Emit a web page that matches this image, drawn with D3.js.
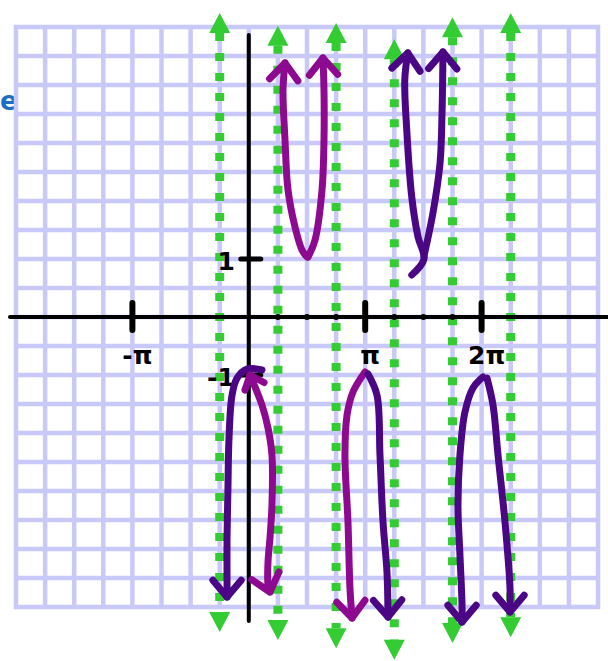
<!DOCTYPE html>
<html><head><meta charset="utf-8">
<script src="https://cdn.jsdelivr.net/npm/d3@7"></script>
<style>html,body{margin:0;padding:0;background:#fff;} svg{display:block;}</style>
</head><body>
<svg id="chart" width="608" height="661"></svg>
<script>
// x values are multiples of π, y values are plain units
const xTickValues = [-1, 1, 2];
const xTickLabels = ["-π", "π", "2π"];
const yTickValues = [1, -1];
const yTickLabels = ["1", "-1"];
const quarterMarks = [0.25, 0.5, 0.75, 1.25, 1.5, 1.75];

// vertical asymptotes and how far each dotted guide reaches
const asymptoteX = [-0.25, 0.25, 0.75, 1.25, 1.75, 2.25];
const asymptoteTop = [5.24, 5.02, 5.07, 4.79, 5.17, 5.24];
const asymptoteBottom = [-5.43, -5.57, -5.71, -5.91, -5.62, -5.52];

// each branch arm runs from its turning point out to the arrow tip
const armA_left  = [[0.113,-0.914],[-0.015,-0.897],[-0.101,-1.052],[-0.144,-1.345],[-0.170,-2.086],[-0.179,-2.948],[-0.187,-3.810],[-0.187,-4.569],[-0.187,-4.828]];
const armA_right = [[0.010,-1.0],[0.113,-1.517],[0.165,-1.914],[0.199,-2.379],[0.199,-3.241],[0.182,-3.810],[0.165,-4.224],[0.165,-4.621],[0.182,-4.741]];
const armB_left  = [[0.500,1.034],[0.457,1.155],[0.397,1.552],[0.337,2.190],[0.311,3.052],[0.294,3.914],[0.311,4.379]];
const armB_right = [[0.509,1.034],[0.569,1.328],[0.629,2.190],[0.646,3.052],[0.646,3.914],[0.637,4.466]];
const armC_left  = [[0.998,-0.948],[0.895,-1.293],[0.844,-1.690],[0.826,-2.379],[0.852,-3.534],[0.869,-4.672],[0.887,-5.190]];
const armC_right = [[1.024,-0.983],[1.101,-1.345],[1.127,-2.379],[1.153,-3.534],[1.187,-4.397],[1.196,-5.172]];
const armD_left  = [[1.400,0.724],[1.505,1.0],[1.454,1.379],[1.400,2.069],[1.357,3.224],[1.340,4.086],[1.366,4.552]];
const armD_right = [[1.505,1.052],[1.582,1.793],[1.643,2.655],[1.660,3.517],[1.668,4.569]];
const armE_left  = [[2.012,-1.034],[1.926,-1.224],[1.857,-1.638],[1.814,-2.379],[1.797,-3.241],[1.814,-4.103],[1.832,-4.966],[1.832,-5.259]];
const armE_right = [[2.046,-1.052],[2.098,-1.517],[2.141,-2.379],[2.201,-3.534],[2.244,-4.672],[2.244,-5.086]];

const arms = [
  {pts: armA_left,  pen: "indigo",  startHead: false},
  {pts: armA_right, pen: "magenta", startHead: true},
  {pts: armB_left,  pen: "magenta", startHead: false},
  {pts: armB_right, pen: "magenta", startHead: false},
  {pts: armC_left,  pen: "magenta", startHead: false},
  {pts: armC_right, pen: "indigo",  startHead: false},
  {pts: armD_left,  pen: "indigo",  startHead: false},
  {pts: armD_right, pen: "indigo",  startHead: false},
  {pts: armE_left,  pen: "indigo",  startHead: false},
  {pts: armE_right, pen: "indigo",  startHead: false}
];

const penColor = {magenta: "#8d0a90", indigo: "#4a0684"};
const gridColor = "#c8c8f9";
const guideColor = "#33cc33";

const svg = d3.select("#chart");
const x = d3.scaleLinear().domain([-2, 3]).range([16, 598]);
const y = d3.scaleLinear().domain([5, -5]).range([27, 607]);

// blue caption letter at the left edge
svg.append("text").attr("x", 0).attr("y", 110)
  .attr("text-anchor", "start")
  .attr("font-family", "DejaVu Sans, sans-serif").attr("font-weight", "bold")
  .attr("font-size", 26).attr("fill", "#1b6fc5").text("e");

// grid: quarter-π columns, half-unit rows
const gx = d3.range(-2, 3.001, 0.25);
const gy = d3.range(-5, 5.001, 0.5);
const grid = svg.append("g").attr("stroke", gridColor).attr("stroke-width", 4.5);
grid.selectAll("line.v").data(gx).join("line").attr("class", "v")
  .attr("x1", d => x(d)).attr("x2", d => x(d))
  .attr("y1", y(5) - 2).attr("y2", y(-5) + 2);
grid.selectAll("line.h").data(gy).join("line").attr("class", "h")
  .attr("y1", d => y(d)).attr("y2", d => y(d))
  .attr("x1", x(-2) - 2).attr("x2", x(3) + 2);

// dotted asymptote guides with arrowheads
const guides = svg.append("g");
const headH = 20, headW = 21;
asymptoteX.forEach((v, i) => {
  const gxp = x(v), t = y(asymptoteTop[i]), b = y(asymptoteBottom[i]);
  guides.append("line")
    .attr("x1", gxp).attr("x2", gxp)
    .attr("y1", t + headH).attr("y2", b - headH)
    .attr("stroke", guideColor).attr("stroke-width", 9)
    .attr("stroke-dasharray", "8 12");
  guides.append("path")
    .attr("d", `M${gxp},${t}L${gxp + headW / 2},${t + headH}L${gxp - headW / 2},${t + headH}Z`)
    .attr("fill", guideColor);
  guides.append("path")
    .attr("d", `M${gxp},${b}L${gxp + headW / 2},${b - headH}L${gxp - headW / 2},${b - headH}Z`)
    .attr("fill", guideColor);
});

// axes
const axes = svg.append("g").attr("stroke", "#000").attr("stroke-linecap", "round");
axes.append("line").attr("x1", 10).attr("x2", 608)
  .attr("y1", y(0)).attr("y2", y(0)).attr("stroke-width", 4);
axes.append("line").attr("x1", x(0)).attr("x2", x(0))
  .attr("y1", y(5) + 8).attr("y2", y(-5) + 14).attr("stroke-width", 4);

axes.selectAll("line.xt").data(xTickValues).join("line").attr("class", "xt")
  .attr("x1", d => x(d)).attr("x2", d => x(d))
  .attr("y1", y(0) - 14).attr("y2", y(0) + 13).attr("stroke-width", 6);
axes.selectAll("line.yt").data(yTickValues).join("line").attr("class", "yt")
  .attr("x1", x(0) - 8).attr("x2", x(0) + 12)
  .attr("y1", d => y(d)).attr("y2", d => y(d)).attr("stroke-width", 5);
svg.append("g").selectAll("circle").data(quarterMarks).join("circle")
  .attr("cx", d => x(d)).attr("cy", y(0)).attr("r", 3).attr("fill", "#000");

// tick labels
const labels = svg.append("g")
  .attr("font-family", "DejaVu Sans, sans-serif").attr("font-weight", "bold")
  .attr("font-size", 25).attr("fill", "#000");
labels.selectAll("text.xl").data(xTickValues).join("text").attr("class", "xl")
  .attr("x", d => x(d) + 5).attr("y", y(0) + 47)
  .attr("text-anchor", "middle").text((d, i) => xTickLabels[i]);
labels.selectAll("text.yl").data(yTickValues).join("text").attr("class", "yl")
  .attr("x", x(0) - 14).attr("y", d => y(d) + 4)
  .attr("dominant-baseline", "middle").attr("text-anchor", "end")
  .text((d, i) => yTickLabels[i]);

// branches
const line = d3.line().x(d => x(d[0])).y(d => y(d[1])).curve(d3.curveCatmullRom.alpha(0.5));
function chevron(tip, from, len, ang) {
  const a = Math.atan2(tip[1] - from[1], tip[0] - from[0]) + Math.PI;
  const p1 = [tip[0] + len * Math.cos(a + ang), tip[1] + len * Math.sin(a + ang)];
  const p2 = [tip[0] + len * Math.cos(a - ang), tip[1] + len * Math.sin(a - ang)];
  return `M${p1}L${tip}L${p2}`;
}
const curves = svg.append("g").attr("fill", "none")
  .attr("stroke-width", 7).attr("stroke-linecap", "round").attr("stroke-linejoin", "round");
arms.forEach(arm => {
  const px = arm.pts.map(d => [x(d[0]), y(d[1])]);
  const col = penColor[arm.pen];
  curves.append("path").attr("d", line(arm.pts)).attr("stroke", col);
  const n = px.length;
  curves.append("path").attr("d", chevron(px[n - 1], px[n - 2], 22, 0.7)).attr("stroke", col);
  if (arm.startHead) {
    curves.append("path").attr("d", chevron(px[0], px[1], 16, 0.7)).attr("stroke", col);
  }
});
</script>
</body></html>
